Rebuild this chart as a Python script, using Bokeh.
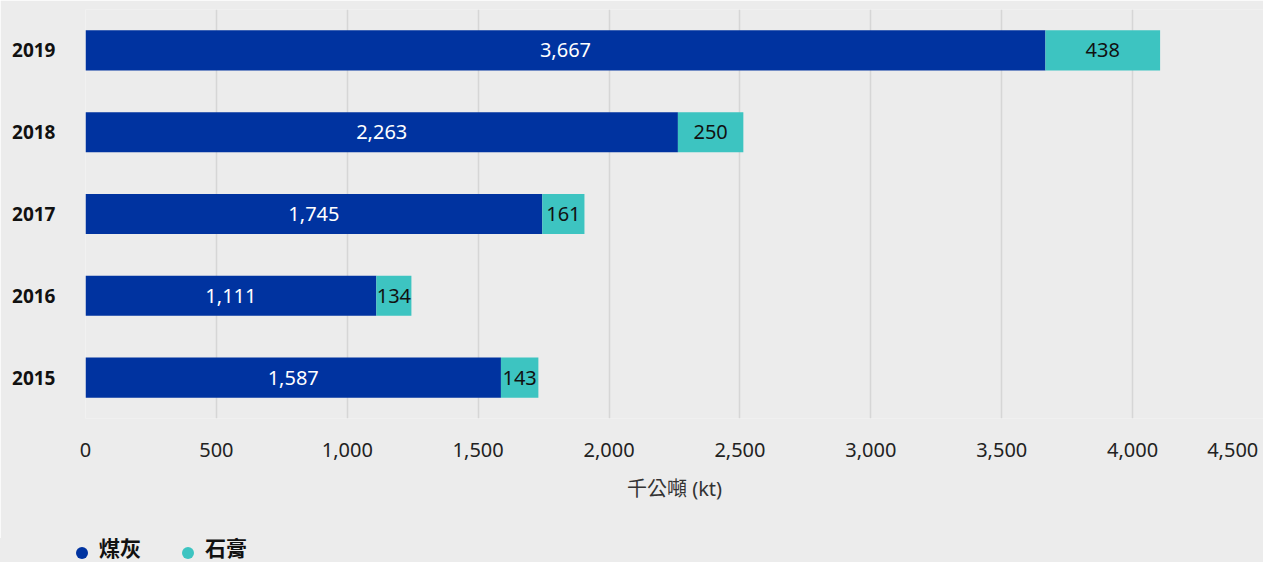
from bokeh.plotting import figure
from bokeh.layouts import column
from bokeh.models import (ColumnDataSource, NumeralTickFormatter, FixedTicker,
                          LabelSet, Div)
from bokeh.core.properties import value
from bokeh.embed import file_html
from bokeh.resources import INLINE

# Waste utilisation by year (thousand tonnes)
years = ["2015", "2016", "2017", "2018", "2019"]
coal_ash = [1587, 1111, 1745, 2263, 3667]
gypsum = [143, 134, 161, 250, 438]
series_names = ["煤灰", "石膏"]
x_ticks = [0, 500, 1000, 1500, 2000, 2500, 3000, 3500, 4000, 4500]
x_title = "千公噸 (kt)"

BLUE = "#0033a0"
TEAL = "#3dc4c1"
BG = "#ececec"
FONT = "'Noto Sans', 'Noto Sans CJK TC', sans-serif"
CJK_FONT = "'Noto Sans CJK TC', 'Noto Sans', sans-serif"

src = ColumnDataSource(dict(
    year=years,
    coal=coal_ash,
    gyp=gypsum,
    coal_mid=[c / 2 for c in coal_ash],
    gyp_mid=[c + g / 2 for c, g in zip(coal_ash, gypsum)],
    coal_txt=[f"{c:,}" for c in coal_ash],
    gyp_txt=[f"{g:,}" for g in gypsum],
))

p = figure(width=1263, height=538, y_range=years, x_range=(0, x_ticks[-1]),
           output_backend="svg", toolbar_location=None,
           min_border_left=85, min_border_right=0, min_border_top=9, min_border_bottom=120,
           background_fill_color=BG, border_fill_color=BG, outline_line_color=None)

p.hbar_stack(["coal", "gyp"], y="year", height=0.49, color=[BLUE, TEAL],
             line_color=None, source=src)

# value labels inside each segment
p.add_layout(LabelSet(x="coal_mid", y="year", text="coal_txt", source=src,
                      text_align="center", text_baseline="middle",
                      text_color="white", text_font_size="20px", text_font=value(FONT)))
p.add_layout(LabelSet(x="gyp_mid", y="year", text="gyp_txt", source=src,
                      text_align="center", text_baseline="middle",
                      text_color="#111111", text_font_size="20px", text_font=value(FONT)))

# axes; the last tick label sits on the frame's right edge, so pad it to stay visible
p.xaxis.ticker = FixedTicker(ticks=x_ticks)
p.xaxis.formatter = NumeralTickFormatter(format="0,0")
p.xaxis.major_label_overrides = {x_ticks[-1]: f"{x_ticks[-1]:,}" + "\u00a0"}
p.xaxis.axis_line_color = None
p.xaxis.major_tick_line_color = None
p.xaxis.minor_tick_line_color = None
p.xaxis.major_tick_out = 0
p.xaxis.major_label_standoff = 17
p.xaxis.major_label_text_font = FONT
p.xaxis.major_label_text_font_size = "20px"
p.xaxis.major_label_text_color = "#222222"
p.xaxis.axis_label = x_title
p.xaxis.axis_label_text_font = FONT
p.xaxis.axis_label_text_font_size = "20px"
p.xaxis.axis_label_text_font_style = "normal"
p.xaxis.axis_label_text_color = "#333333"
p.xaxis.axis_label_standoff = 9

p.yaxis.axis_line_color = None
p.yaxis.major_tick_line_color = None
p.yaxis.minor_tick_line_color = None
p.yaxis.major_tick_out = 0
p.yaxis.major_label_standoff = 30
p.yaxis.major_label_text_font = FONT
p.yaxis.major_label_text_font_size = "19px"
p.yaxis.major_label_text_font_style = "bold"
p.yaxis.major_label_text_color = "#111111"

p.ygrid.grid_line_color = None
p.xgrid.ticker = FixedTicker(ticks=x_ticks[:-1])
p.xgrid.grid_line_color = "#d6d6d6"
p.xgrid.grid_line_width = 1.5

# series key below the chart: round swatch + bold name for each series
key_items = []
for i, (name, col) in enumerate(zip(series_names, [BLUE, TEAL])):
    left = 76 + 106 * i
    key_items.append(
        f'<span style="position:absolute;left:{left}px;top:9px;width:12px;height:12px;'
        f'border-radius:50%;background:{col};"></span>'
        f'<span style="position:absolute;left:{left + 23}px;top:-3px;font-family:{CJK_FONT};'
        f'font-size:21px;font-weight:bold;line-height:24px;color:#111111;'
        f'white-space:nowrap;">{name}</span>'
    )
key = Div(text="".join(key_items), width=1263, height=24, margin=0,
          styles={"position": "relative", "background-color": BG, "overflow": "visible"})

open("out.html", "w").write(file_html(column(p, key, spacing=0), INLINE))
